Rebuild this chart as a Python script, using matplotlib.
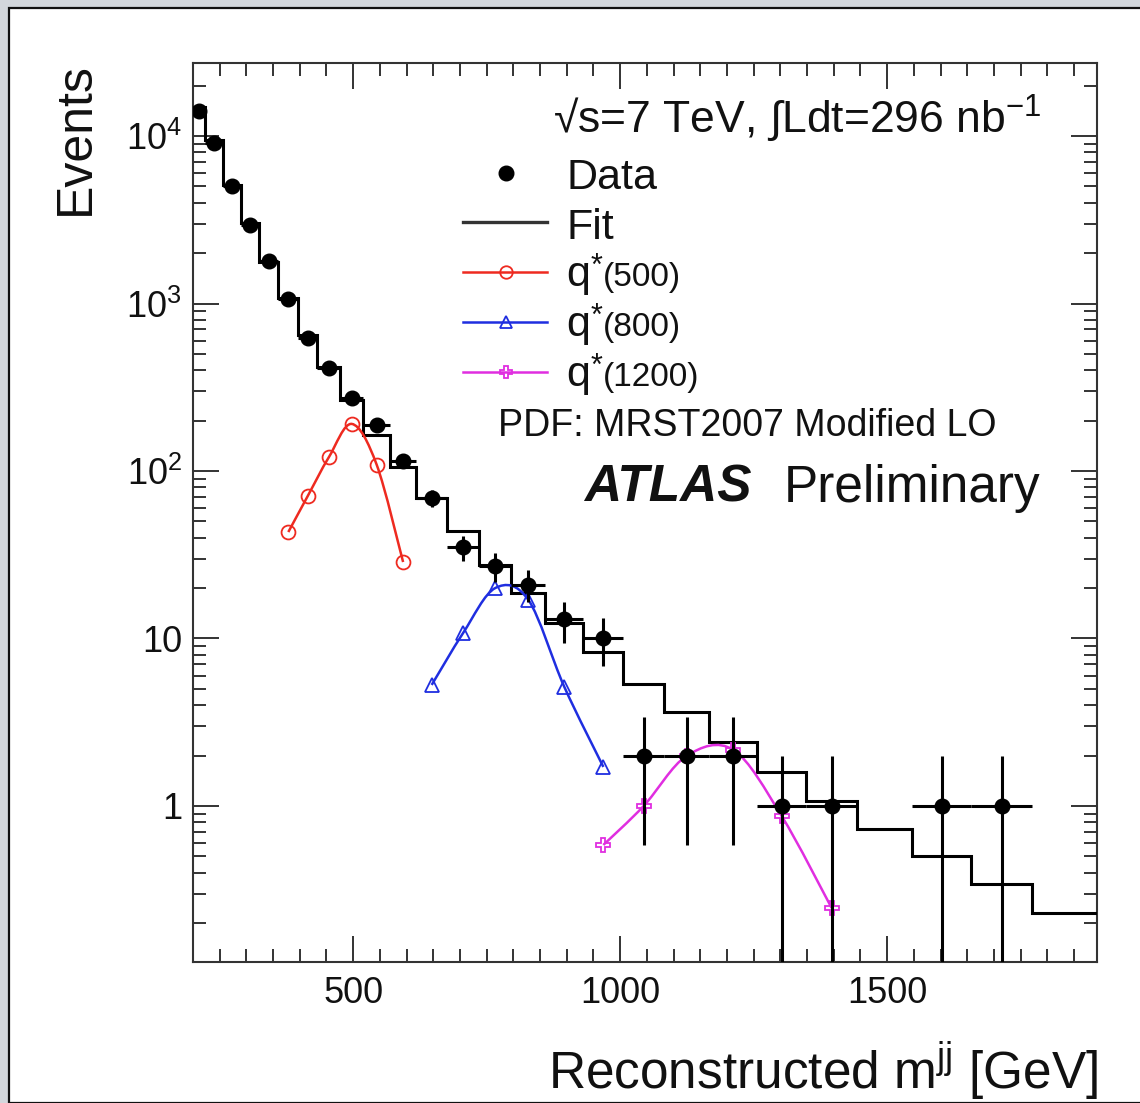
import numpy as np
import matplotlib
matplotlib.use("Agg")
import matplotlib.pyplot as plt
from matplotlib.path import Path
from matplotlib.patches import PathPatch, Rectangle
from matplotlib.lines import Line2D
from matplotlib.ticker import FixedLocator, FuncFormatter, MultipleLocator, LogLocator, NullFormatter

# ---------------- data ----------------
bin_edges = [200, 223, 257, 290, 324, 360, 397, 433, 476, 519, 569, 618, 676, 736,
             796, 860, 931, 1006, 1082, 1167, 1257, 1348, 1444, 1547, 1657, 1772, 1900]
data_counts = [14100, 9100, 5000, 2950, 1790, 1065, 622, 412, 273, 188, 115, 69, 35,
               27, 21, 13, 10, 2, 2, 2, 1, 1, 0, 1, 1, 0]
fit_values = [14900, 9460, 5090, 3030, 1770, 1080, 649, 418, 265, 164, 106, 69, 43.8,
              27.5, 18.7, 12.4, 8.3, 5.35, 3.64, 2.41, 1.60, 1.07, 0.73, 0.50, 0.34, 0.23]
q500_first_bin = 5
q500_values = [43.2, 71, 121, 191, 109, 28.6]
q800_first_bin = 11
q800_values = [5.28, 10.8, 20.0, 17.0, 5.13, 1.71]
q1200_first_bin = 16
q1200_values = [0.585, 1.0, 1.99, 2.16, 0.87, 0.246]
x_ticks = [500, 1000, 1500]
y_ticks = [1, 10, 100, 1000, 10000]
x_range = (200, 1893)
y_range = (0.117, 27300)

# ---------------- style ----------------
FONT = ['Liberation Sans', 'DejaVu Sans']
plt.rcParams['font.family'] = FONT
plt.rcParams['mathtext.fontset'] = 'custom'
plt.rcParams['mathtext.rm'] = 'Liberation Sans'
plt.rcParams['mathtext.it'] = 'Liberation Sans:italic'
plt.rcParams['mathtext.bf'] = 'Liberation Sans:bold'

RED = '#ee2a20'
BLUE = '#1f2ee0'
MAG = '#e02ee0'
AXC = '#333333'
TXT = '#111111'

W, H = 1140, 1103
fig = plt.figure(figsize=(W / 100, H / 100), dpi=100)
fig.patch.set_facecolor('#d3d7dc')


def fx(px):
    return px / W


def fy(py):
    return 1 - py / H


# white slide panel
fig.add_artist(Rectangle((fx(9), 0), 1 - fx(9) + 0.01, fy(8), transform=fig.transFigure,
                         facecolor='white', edgecolor='#111111', lw=1.6, zorder=0))

ax = fig.add_axes([fx(193), fy(962), fx(1097) - fx(193), fy(63) - fy(962)])
ax.set_facecolor('white')
ax.set_yscale('log')
ax.set_xlim(*x_range)
ax.set_ylim(*y_range)

edges = np.array(bin_edges, float)
centers = 0.5 * (edges[:-1] + edges[1:])
halfw = 0.5 * (edges[1:] - edges[:-1])

# fit histogram
ax.stairs(fit_values, edges, baseline=None, color='black', lw=2.2, zorder=3)

# data with errors
cnt = np.array(data_counts, float)
m = cnt > 0
err = np.sqrt(cnt[m])
lo = np.minimum(err, cnt[m] - 1e-3)
ax.errorbar(centers[m], cnt[m], xerr=halfw[m], yerr=[lo, err], fmt='o', color='black',
            ms=10.5, elinewidth=2.2, capsize=0, zorder=5)


def smooth_path(xs, ys):
    lx = np.asarray(xs, float)
    ly = np.log10(np.asarray(ys, float))
    n = len(lx)
    verts = [(lx[0], ly[0])]
    codes = [Path.MOVETO]
    for i in range(n - 1):
        a = max(i - 1, 0)
        d = min(i + 2, n - 1)
        c1 = (lx[i] + (lx[i + 1] - lx[a]) / 6, ly[i] + (ly[i + 1] - ly[a]) / 6)
        c2 = (lx[i + 1] - (lx[d] - lx[i]) / 6, ly[i + 1] - (ly[d] - ly[i]) / 6)
        verts += [c1, c2, (lx[i + 1], ly[i + 1])]
        codes += [Path.CURVE4] * 3
    verts = [(x, 10 ** y) for x, y in verts]
    return Path(verts, codes)


signals = [(q500_first_bin, q500_values, RED, 'o'),
           (q800_first_bin, q800_values, BLUE, '^'),
           (q1200_first_bin, q1200_values, MAG, 'P')]
for first, vals, col, mk in signals:
    xs = centers[first:first + len(vals)]
    ax.add_patch(PathPatch(smooth_path(xs, vals), facecolor='none', edgecolor=col,
                           lw=1.8, zorder=4))
    ax.plot(xs, vals, linestyle='none', marker=mk, ms=10, mfc='none', mec=col,
            mew=1.3, zorder=4)

# ticks
ax.xaxis.set_major_locator(FixedLocator(x_ticks))
ax.xaxis.set_minor_locator(MultipleLocator(50))
ax.yaxis.set_major_locator(FixedLocator(y_ticks))
ax.yaxis.set_minor_locator(LogLocator(base=10, subs=np.arange(2, 10)))
ax.yaxis.set_minor_formatter(NullFormatter())


def yfmt(v, pos):
    if v == 1:
        return '1'
    if v == 10:
        return '10'
    return r'10$^{%d}$' % int(round(np.log10(v)))


ax.yaxis.set_major_formatter(FuncFormatter(yfmt))
ax.tick_params(which='both', direction='in', top=True, right=True, color=AXC,
               width=1.4, labelsize=26, labelcolor=TXT)
ax.tick_params(which='major', length=19)
ax.tick_params(which='minor', length=9.5)
ax.tick_params(axis='x', which='major', pad=10)
ax.tick_params(axis='y', which='major', pad=8)
for s in ax.spines.values():
    s.set_color(AXC)
    s.set_linewidth(1.5)

# axis titles
fig.text(fx(76), fy(62), 'Events', rotation=90, ha='center', va='top', fontsize=36,
         color=TXT)
fig.text(fx(1098), fy(1089), r'Reconstructed m$^{\mathregular{jj}}$ [GeV]', ha='right',
         va='baseline', fontsize=37, color=TXT)

# header text
fig.text(fx(553), fy(133), '\u221as=7 TeV, \u222bLdt=296 nb$^{\\mathregular{-1}}$',
         ha='left', va='baseline', fontsize=32, color=TXT)

# manual legend
fig.add_artist(Line2D([fx(506)], [fy(173)], transform=fig.transFigure, marker='o',
                      ms=10.5, color='black', linestyle='none'))
fig.text(fx(566), fy(189), 'Data', ha='left', va='baseline', fontsize=31, color=TXT)

fig.add_artist(Line2D([fx(463), fx(547)], [fy(222), fy(222)], transform=fig.transFigure,
                      color='#333333', lw=2.4))
fig.text(fx(566), fy(239), 'Fit', ha='left', va='baseline', fontsize=31, color=TXT)

legend_sig = [(RED, 'o', '(500)', 272), (BLUE, '^', '(800)', 322), (MAG, 'P', '(1200)', 372)]
for col, mk, lab, yy in legend_sig:
    fig.add_artist(Line2D([fx(463), fx(547)], [fy(yy), fy(yy)], transform=fig.transFigure,
                          color=col, lw=1.8))
    fig.add_artist(Line2D([fx(506)], [fy(yy)], transform=fig.transFigure, marker=mk,
                          ms=9, mfc='none', mec=col, mew=1.3, linestyle='none'))
    fig.text(fx(566), fy(yy + 14), 'q', ha='left', va='baseline', fontsize=31, color=TXT)
    fig.text(fx(591), fy(yy + 3), '*', ha='left', va='baseline', fontsize=22, color=TXT)
    fig.text(fx(603), fy(yy + 14), lab, ha='left', va='baseline', fontsize=24, color=TXT)

fig.text(fx(498), fy(436), 'PDF: MRST2007 Modified LO', ha='left', va='baseline',
         fontsize=27, color=TXT)
fig.text(fx(584), fy(502), 'ATLAS', ha='left', va='baseline', fontsize=37,
         fontweight='bold', fontstyle='italic', color=TXT)
fig.text(fx(784), fy(502), 'Preliminary', ha='left', va='baseline', fontsize=37,
         color=TXT)

fig.savefig('out.png', dpi=100, facecolor=fig.get_facecolor())
